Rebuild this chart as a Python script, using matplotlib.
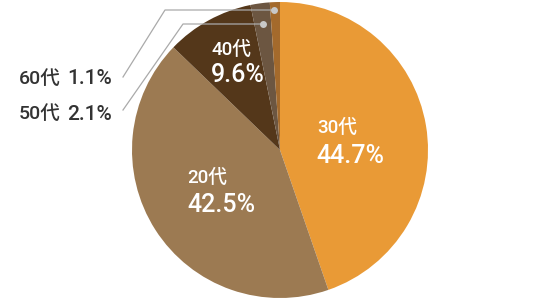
import matplotlib
matplotlib.use("Agg")
import matplotlib.pyplot as plt

plt.rcParams['font.family'] = ['Roboto', 'Noto Sans CJK JP', 'DejaVu Sans']

# slices, clockwise from 12 o'clock
ages = ['30代', '20代', '40代', '50代', '60代']
shares = [44.7, 42.5, 9.6, 2.1, 1.1]
colors = ['#E99A36', '#9C7A52', '#54371A', '#6C5641', '#A46A2C']

fig = plt.figure(figsize=(5.6, 3.0), dpi=100)
ax = fig.add_axes([0, 0, 1, 1])

# work in pixel-like coords, y measured from the top
def py(y):
    return 300 - y

ax.pie(shares, colors=colors, startangle=90, counterclock=False,
       center=(280, py(150)), radius=148, frame=True,
       wedgeprops=dict(linewidth=0))
ax.set_xlim(0, 560)
ax.set_ylim(0, 300)
ax.set_aspect('equal')
ax.axis('off')

# labels inside the big slices
inside = {0: (317, 128, 316, 156), 1: (187, 178, 187, 205), 2: (212, 50, 211, 75)}
for i, (xa, ya, xb, yb) in inside.items():
    ax.text(xa, py(ya), ages[i], color='white', fontsize=13.5, fontweight='medium',
            ha='left', va='center')
    ax.text(xb, py(yb), '%.1f%%' % shares[i], color='white', fontsize=18,
            fontweight='medium', ha='left', va='center')

# small slices, labelled outside with leader lines
outside = {4: (79, [(123, 77), (165, 10), (274, 10)]),
           3: (114, [(123, 110), (183, 24), (263, 24)])}
for i, (ly, pts) in outside.items():
    ax.text(19, py(ly), ages[i], color='#333333', fontsize=14, fontweight='medium',
            ha='left', va='center')
    ax.text(67, py(ly), '%.1f%%' % shares[i], color='#333333', fontsize=15,
            fontweight='medium', ha='left', va='center')
    xs = [p[0] for p in pts]
    ys = [py(p[1]) for p in pts]
    ax.plot(xs, ys, color='#AAAAAA', linewidth=0.9)
    ax.plot(xs[-1], ys[-1], 'o', color='#C8C8C8', markersize=5, markeredgewidth=0)

fig.savefig('out.png', dpi=100)
